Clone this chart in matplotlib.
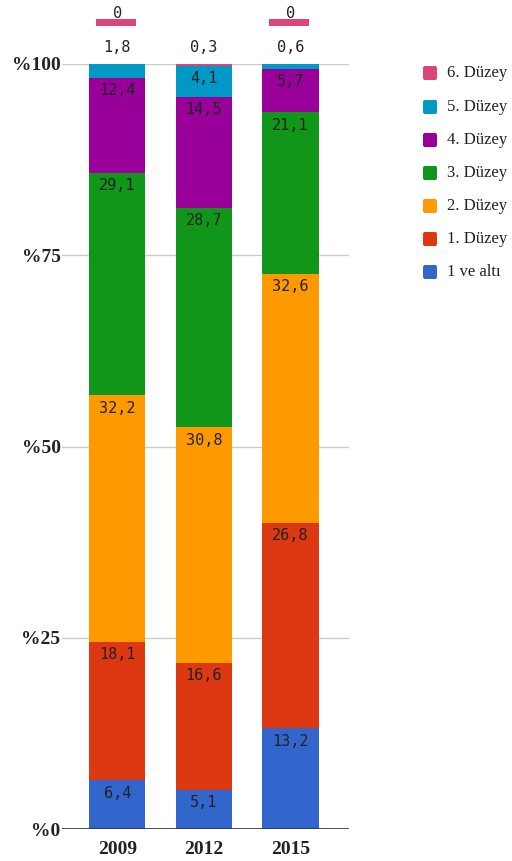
import matplotlib
matplotlib.use("Agg")
import matplotlib.pyplot as plt
from matplotlib.patches import Rectangle, FancyBboxPatch
import numpy as np

years = ["2009", "2012", "2015"]
levels = ["1 ve altı", "1. Düzey", "2. Düzey", "3. Düzey", "4. Düzey", "5. Düzey", "6. Düzey"]
colors = ["#3366cc", "#dc3912", "#ff9900", "#109618", "#990099", "#0099c6", "#dd4477"]

v_1altı = [6.4, 5.1, 13.2]
v_duzey1 = [18.1, 16.6, 26.8]
v_duzey2 = [32.2, 30.8, 32.6]
v_duzey3 = [29.1, 28.7, 21.1]
v_duzey4 = [12.4, 14.5, 5.7]
v_duzey5 = [1.8, 4.1, 0.6]
v_duzey6 = [0.0, 0.3, 0.0]
series = [v_1altı, v_duzey1, v_duzey2, v_duzey3, v_duzey4, v_duzey5, v_duzey6]

y_ticks = [0, 25, 50, 75, 100]
y_ticklabels = ["%0", "%25", "%50", "%75", "%100"]

W, H = 512, 861
fig = plt.figure(figsize=(W / 100, H / 100), dpi=100)
ax = fig.add_axes([62 / W, (H - 829) / H, (349 - 62) / W, (829 - 64) / H])

x = np.arange(len(years))
bar_w = 0.647
mono = "DejaVu Sans Mono"
txt_col = "#222222"

ax.set_xlim(-(117.3 - 62) / 86.6, 2 + (349 - 290.5) / 86.6)
ax.set_ylim(0, 100)

bottoms = np.zeros(len(years))
for vals, col in zip(series, colors):
    ax.bar(x, vals, bar_w, bottom=bottoms, color=col, zorder=3, linewidth=0)
    bottoms += np.array(vals)

# value labels: inside the segment when tall enough, otherwise stacked above the column
for i in range(len(years)):
    base = 0.0
    for vals, col in zip(series, colors):
        v = vals[i]
        top = base + v
        lbl = f"{v:g}".replace(".", ",")
        if v >= 3:
            ax.annotate(lbl, (x[i], top), xytext=(0, -13), textcoords="offset pixels",
                        ha="center", va="center", fontsize=11, family=mono,
                        color=txt_col, zorder=5)
        else:
            off = 51 if v == 0 else 17
            ax.annotate(lbl, (x[i], 100), xytext=(0, off), textcoords="offset pixels",
                        ha="center", va="center", fontsize=11, family=mono,
                        color=txt_col, annotation_clip=False, zorder=5)
            if v == 0:
                # colour marker under a zero-valued label
                px, py = ax.transData.transform((x[i], 100))
                rect = Rectangle(((px - 21.5) / W, (py + 38) / H), 40 / W, 7 / H,
                                 transform=fig.transFigure, facecolor=col,
                                 edgecolor="none")
                fig.patches.append(rect)
        base = top

ax.set_yticks(y_ticks)
ax.set_yticklabels(y_ticklabels)
ax.set_xticks(x)
ax.set_xticklabels(years)
for lab in ax.get_yticklabels() + ax.get_xticklabels():
    lab.set_fontfamily("Liberation Serif")
    lab.set_fontweight("bold")
    lab.set_fontsize(14)
    lab.set_color(txt_col)
ax.tick_params(length=0, pad=1)
ax.tick_params(axis="x", pad=9)
ax.grid(axis="y", color="#cccccc", linewidth=1, zorder=0)
ax.axhline(0, color="#333333", linewidth=1.2, zorder=4)
for s in ax.spines.values():
    s.set_visible(False)

# legend, top entry first
leg_y = [73, 107, 140, 173, 206, 239, 272]
for name, col, yy in zip(levels[::-1], colors[::-1], leg_y):
    sq = FancyBboxPatch((423 / W, (H - yy - 7) / H), 14 / W, 14 / H,
                        boxstyle="round,pad=0,rounding_size=0.003",
                        transform=fig.transFigure, facecolor=col, edgecolor="none")
    fig.patches.append(sq)
    fig.text(447 / W, (H - yy) / H, name, fontsize=12, family="Liberation Serif",
             color=txt_col, va="center", ha="left")

fig.savefig("out.png", dpi=100)
